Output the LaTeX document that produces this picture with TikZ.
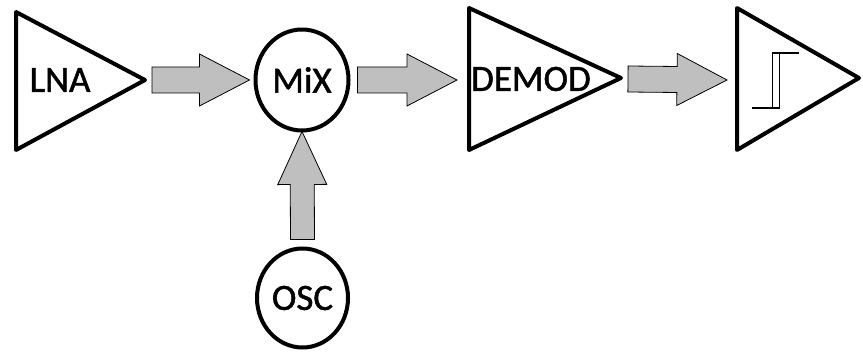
\documentclass[tikz,border=0pt]{standalone}
\usepackage{fontspec}
\setmainfont{Carlito}
\newfontfamily\labelfont{Carlito}[FakeBold=1.3]
\usetikzlibrary{calc,shapes.geometric}

\tikzset{
  x=1pt, y=1pt,
  ampline/.style={draw=black, line width=4pt, line join=round},
  ringnode/.style={draw=black, line width=4pt, ellipse, inner sep=0pt,
                   minimum width=93pt, minimum height=101pt},
  lbl/.style={inner sep=0pt, font=\labelfont\fontsize{37}{40}\selectfont},
  arrowbox/.style={draw=black, line width=0.8pt, fill=black!25, line join=miter},
  hyst/.style={draw=black, line width=1.7pt}
}

% block arrow from #1 to #2: shaft half-width #3, head half-width #4, head length #5
\newcommand\blockarrow[5]{%
  \coordinate (hb) at ($(#2)!#5!(#1)$);
  \draw[arrowbox]
    ($(#1)!#3!-90:(#2)$) -- ($(hb)!#3!90:(#1)$) -- ($(hb)!#4!90:(#1)$) -- (#2)
    -- ($(hb)!#4!-90:(#1)$) -- ($(hb)!#3!-90:(#1)$) -- ($(#1)!#3!90:(#2)$) -- cycle;
}

\begin{document}
\begin{tikzpicture}
\useasboundingbox (0,0) rectangle (863,356);

% amplifier triangles
\draw[ampline] (16,344) -- (16,206) -- (145,276) -- cycle;
\coordinate (lnatip) at (147,276);
\node[lbl] (lna) at (60,276) {LNA};

\draw[ampline] (469,348) -- (469,206) -- (621,278) -- cycle;
\coordinate (demodin) at (467,278);
\coordinate (demodtip) at (623,278);
\node[lbl] (demod) at (531,277) {DEMOD};

\draw[ampline] (737,348) -- (737,206) -- (859,278) -- cycle;
\coordinate (compin) at (735,278);

% hysteresis symbol inside the comparator
\draw[hyst] (752,248) -- (779.5,248) -- (779.5,303);
\draw[hyst] (772.5,248) -- (772.5,303) -- (799,303);

% mixer and oscillator
\node[ringnode] (mix) at (302,276) {};
\node[lbl] at (mix.center) {MiX};
\node[ringnode, minimum width=91pt, minimum height=99pt] (osc) at (302.5,58) {};
\node[lbl] at (osc.center) {OSC};

% signal flow
\coordinate (a1s) at ($(lnatip)+(5,0)$);
\coordinate (a1e) at ($(mix.west)+(-4,0)$);
\blockarrow{a1s}{a1e}{13pt}{26pt}{50pt}

\coordinate (a2s) at ($(mix.east)+(7,0)$);
\coordinate (a2e) at ($(demodin)+(-10,-2)$);
\blockarrow{a2s}{a2e}{13pt}{26pt}{50pt}

\coordinate (a3s) at ($(demodtip)+(5,-1)$);
\coordinate (a3e) at ($(compin)+(-8,-2)$);
\blockarrow{a3s}{a3e}{13pt}{26pt}{50pt}

\coordinate (a4s) at ($(osc.north)+(0,7)$);
\coordinate (a4e) at ($(mix.south)+(0,1)$);
\blockarrow{a4s}{a4e}{12pt}{24.5pt}{53pt}
\end{tikzpicture}
\end{document}
